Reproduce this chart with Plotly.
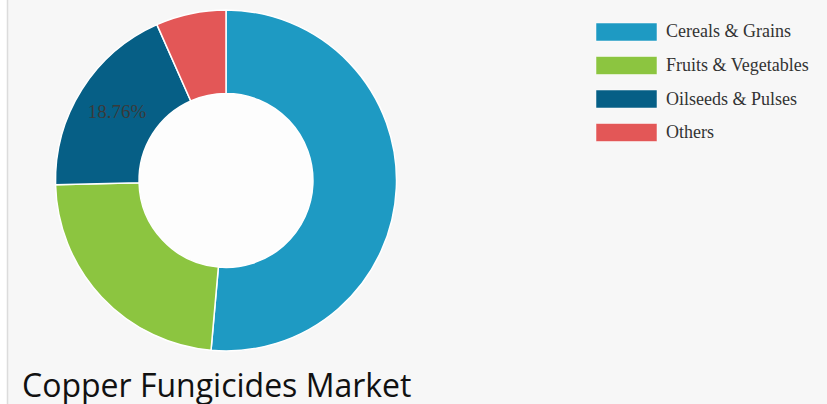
import plotly.graph_objects as go

categories = ["Cereals & Grains", "Fruits & Vegetables", "Oilseeds & Pulses", "Others"]
shares = [51.4, 23.2, 18.76, 6.64]
slice_labels = ["", "", "18.76%", ""]
colors = ["#1E9AC3", "#8CC540", "#065F86", "#E35757"]
title_text = "Copper Fungicides Market"

W, H = 827, 404

def px_x(x):
    return x / W

def px_y(y):
    return 1 - y / H

fig = go.Figure()
fig.add_trace(go.Pie(
    labels=categories,
    values=shares,
    text=slice_labels,
    textinfo="text",
    texttemplate="%{text}",
    textposition="inside",
    insidetextorientation="horizontal",
    textfont=dict(family="Liberation Serif", size=19, color="#3a3a3a"),
    marker=dict(colors=colors, line=dict(color="#ffffff", width=1.5)),
    hole=0.51,
    sort=False,
    direction="clockwise",
    rotation=0,
    showlegend=False,
    domain=dict(x=[px_x(55), px_x(397)], y=[px_y(351), px_y(10)]),
))

shapes = [
    # panel background and left border
    dict(type="rect", xref="paper", yref="paper", x0=px_x(8), x1=1, y0=0, y1=1,
         fillcolor="#f7f7f7", line=dict(width=0), layer="below"),
    dict(type="line", xref="paper", yref="paper", x0=px_x(7.5), x1=px_x(7.5), y0=0, y1=1,
         line=dict(color="#dcdcdc", width=1.5), layer="below"),
    # donut hole
    dict(type="circle", xref="paper", yref="paper",
         x0=px_x(226 - 88), x1=px_x(226 + 88), y0=px_y(180.5 + 88), y1=px_y(180.5 - 88),
         fillcolor="#fdfdfd", line=dict(width=0), layer="below"),
]
annotations = []
for i, (name, col) in enumerate(zip(categories, colors)):
    top = 23 + i * 33.5
    shapes.append(dict(type="rect", xref="paper", yref="paper",
                       x0=px_x(596), x1=px_x(657), y0=px_y(top + 18), y1=px_y(top),
                       fillcolor=col, line=dict(color="rgba(255,255,255,0.5)", width=1)))
    annotations.append(dict(xref="paper", yref="paper", x=px_x(664), y=px_y(top + 8.5),
                            xanchor="left", yanchor="middle", showarrow=False, text=name,
                            font=dict(family="Liberation Serif", size=18, color="#333333")))

annotations.append(dict(xref="paper", yref="paper", x=px_x(20), y=px_y(384),
                        xanchor="left", yanchor="middle", showarrow=False, text=title_text,
                        font=dict(family="Open Sans", size=32, color="#111111")))

fig.update_layout(
    width=W, height=H,
    margin=dict(l=0, r=0, t=0, b=0),
    paper_bgcolor="#ffffff",
    plot_bgcolor="#ffffff",
    shapes=shapes,
    annotations=annotations,
)

fig.write_html("out.html", config={"displayModeBar": False},
               post_script="document.body.style.margin='0';document.body.style.overflow='hidden';")
